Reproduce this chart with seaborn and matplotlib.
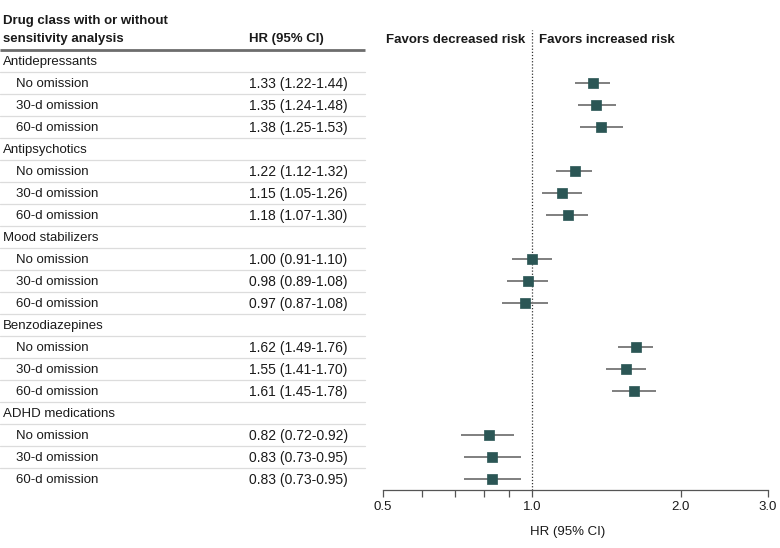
"""
Forest plot: HR (95% CI) by drug class, with and without sensitivity analysis.
"""

import matplotlib
matplotlib.use("Agg")
import matplotlib.pyplot as plt
import matplotlib.transforms as mtransforms
from matplotlib.ticker import NullFormatter
import pandas as pd
import seaborn as sns

# ── Data ──────────────────────────────────────────────────────
drug_classes = ["Antidepressants", "Antipsychotics", "Mood stabilizers",
                "Benzodiazepines", "ADHD medications"]
analyses = ["No omission", "30-d omission", "60-d omission"]

hr      = [1.33, 1.35, 1.38, 1.22, 1.15, 1.18, 1.00, 0.98, 0.97,
           1.62, 1.55, 1.61, 0.82, 0.83, 0.83]
ci_low  = [1.22, 1.24, 1.25, 1.12, 1.05, 1.07, 0.91, 0.89, 0.87,
           1.49, 1.41, 1.45, 0.72, 0.73, 0.73]
ci_high = [1.44, 1.48, 1.53, 1.32, 1.26, 1.30, 1.10, 1.08, 1.08,
           1.76, 1.70, 1.78, 0.92, 0.95, 0.95]

x_ticks = [0.5, 1.0, 2.0, 3.0]
x_tick_labels = ["0.5", "1.0", "2.0", "3.0"]
x_minor = [0.6, 0.7, 0.8, 0.9]

# ── Build row table ───────────────────────────────────────────
rows = []
k = 0
for c in drug_classes:
    rows.append({"label": c, "kind": "group"})
    for a in analyses:
        rows.append({"label": a, "kind": "item", "hr": hr[k],
                     "lo": ci_low[k], "hi": ci_high[k]})
        k += 1
df = pd.DataFrame(rows)
df["row"] = range(len(df))
est = df[df["kind"] == "item"]

# ── Style ─────────────────────────────────────────────────────
sns.set_theme(style="ticks")
plt.rcParams["font.family"] = ["Liberation Sans", "DejaVu Sans"]
TXT = "#1a1a1a"
MARK = "#2b5655"
CI_COL = "#7f7f7f"
FS = 9.5

fig = plt.figure(figsize=(7.8, 5.48), dpi=100)
W, H = 780, 548
ax = fig.add_axes([383 / W, (H - 490) / H, 385 / W, 460 / H])

# CI lines + point estimates
ax.hlines(est["row"], est["lo"], est["hi"], color=CI_COL, lw=1.4, zorder=2)
sns.scatterplot(data=est, x="hr", y="row", marker="s", s=50, color=MARK,
                edgecolor=MARK, linewidth=0.5, zorder=3, ax=ax, legend=False)

ax.axvline(1.0, color="#333333", lw=0.9, ls=(0, (1, 1.5)), zorder=1)

ax.set_xscale("log")
ax.set_xlim(0.5, 3.0)
ax.set_ylim(len(df) - 0.5, -1.41)
ax.set_xticks(x_ticks)
ax.set_xticklabels(x_tick_labels)
ax.set_xticks(x_minor, minor=True)
ax.xaxis.set_minor_formatter(NullFormatter())
ax.tick_params(axis="x", which="both", length=5, width=0.9, color="#555555",
               labelsize=FS, labelcolor=TXT, pad=3)
ax.set_yticks([])
ax.set_xlabel("HR (95% CI)", fontsize=FS, color=TXT)
ax.xaxis.set_label_coords(0.48, -0.078)
ax.set_ylabel("")
sns.despine(ax=ax, left=True)
ax.spines["bottom"].set_color("#555555")
ax.spines["bottom"].set_linewidth(0.9)

ax.annotate("Favors decreased risk", xy=(1.0, -0.95), xytext=(-5, 0),
            textcoords="offset points", ha="right", va="center",
            fontsize=FS, fontweight="bold", color=TXT)
ax.annotate("Favors increased risk", xy=(1.0, -0.95), xytext=(5, 0),
            textcoords="offset points", ha="left", va="center",
            fontsize=FS, fontweight="bold", color=TXT)

# ── Table on the left ─────────────────────────────────────────
blend = mtransforms.blended_transform_factory(fig.transFigure, ax.transData)
x_lab, x_sub, x_val, x_end = 3 / W, 16 / W, 249 / W, 365 / W
dy = 0.06  # nudge text down a touch to sit mid-row

ax.text(x_lab, -1.8, "Drug class with or without", transform=blend,
        ha="left", va="center", fontsize=FS, fontweight="bold", color=TXT)
ax.text(x_lab, -0.98, "sensitivity analysis", transform=blend,
        ha="left", va="center", fontsize=FS, fontweight="bold", color=TXT)
ax.text(x_val, -0.98, "HR (95% CI)", transform=blend,
        ha="left", va="center", fontsize=FS, fontweight="bold", color=TXT)
ax.plot([0, x_end], [-0.5, -0.5], transform=blend, color="#6d6d6d",
        lw=2.0, clip_on=False, solid_capstyle="butt")

for _, r in df.iterrows():
    y = r["row"] + dy
    if r["kind"] == "group":
        ax.text(x_lab, y, r["label"], transform=blend, ha="left",
                va="center", fontsize=FS, color=TXT)
    else:
        ax.text(x_sub, y, r["label"], transform=blend, ha="left",
                va="center", fontsize=FS, color=TXT)
        ax.text(x_val, y, f"{r['hr']:.2f} ({r['lo']:.2f}-{r['hi']:.2f})",
                transform=blend, ha="left", va="center", fontsize=10, color=TXT)
    if r["row"] < len(df) - 1:
        ax.plot([0, x_end], [r["row"] + 0.5] * 2, transform=blend,
                color="#dcdcdc", lw=0.9, clip_on=False)

fig.savefig("out.png", dpi=100)
plt.close(fig)
